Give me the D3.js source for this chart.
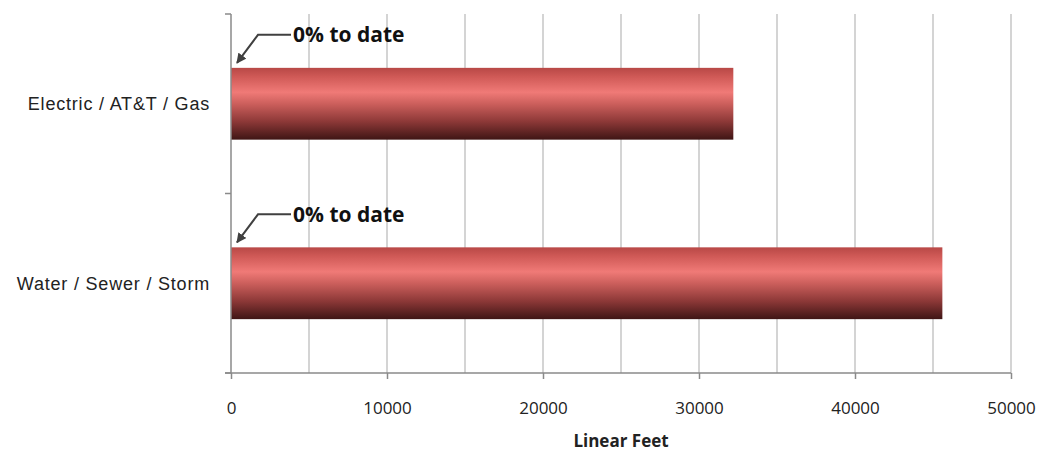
<!DOCTYPE html>
<html>
<head>
<meta charset="utf-8">
<script src="https://cdn.jsdelivr.net/npm/d3@7"></script>
<style>
  body { margin: 0; background: #fff; }
</style>
</head>
<body>
<div id="chart"></div>
<script>
// data
var categories = ["Electric / AT&T / Gas", "Water / Sewer / Storm"];
var footage = [32200, 45600];
var notes = ["0% to date", "0% to date"];
var xTicks = [0, 10000, 20000, 30000, 40000, 50000];
var gridTicks = [0, 5000, 10000, 15000, 20000, 25000, 30000, 35000, 40000, 45000, 50000];

var W = 1042, H = 451;
var margin = { top: 14, right: 31, bottom: 78, left: 231 };
var width = W - margin.left - margin.right,
    height = H - margin.top - margin.bottom;

var svg = d3.select("#chart").append("svg")
    .attr("width", W).attr("height", H);

// bar gradient (cylinder look)
var grad = svg.append("defs").append("linearGradient")
    .attr("id", "barGrad").attr("x1", 0).attr("y1", 0).attr("x2", 0).attr("y2", 1);
[[0, "#b84846"], [0.12, "#cf5956"], [0.34, "#f07a77"], [0.5, "#cc5f5c"], [0.75, "#8c3837"], [1, "#3f1515"]]
    .forEach(function(s) { grad.append("stop").attr("offset", s[0]).attr("stop-color", s[1]); });

var g = svg.append("g").attr("transform", "translate(" + margin.left + "," + margin.top + ")");

var x = d3.scaleLinear().domain([0, 50000]).range([0, width]);
var y = d3.scaleBand().domain(categories).range([0, height]).paddingInner(0.6).paddingOuter(0.3);

// vertical gridlines
g.append("g").selectAll("line")
    .data(gridTicks.slice(1))
    .enter().append("line")
    .attr("x1", d => x(d)).attr("x2", d => x(d))
    .attr("y1", 0).attr("y2", height)
    .attr("stroke", "#d4d4d4").attr("stroke-width", 2);

// bars
g.selectAll("rect.bar")
    .data(categories)
    .enter().append("rect")
    .attr("class", "bar")
    .attr("x", x(0))
    .attr("y", d => y(d))
    .attr("width", (d, i) => x(footage[i]) - x(0))
    .attr("height", y.bandwidth())
    .attr("fill", "url(#barGrad)");

// x axis
var xAxis = g.append("g")
    .attr("transform", "translate(0," + height + ")")
    .call(d3.axisBottom(x).tickValues(xTicks).tickSize(6).tickPadding(23).tickFormat(d3.format("d")));
xAxis.select(".domain").attr("stroke", "#8a8a8a").attr("stroke-width", 1.5)
    .attr("d", "M-6,0H" + width);
xAxis.selectAll(".tick line").attr("stroke", "#8a8a8a").attr("stroke-width", 1.5);
xAxis.selectAll(".tick text")
    .attr("fill", "#222")
    .style("font-family", "'Open Sans', 'Liberation Sans', sans-serif")
    .style("font-size", "17px");

// y axis
var yTickPos = [0, height / 2, height];
var yAxis = g.append("g");
yAxis.append("line").attr("x1", 0).attr("x2", 0).attr("y1", 0).attr("y2", height)
    .attr("stroke", "#8a8a8a").attr("stroke-width", 1.5);
yAxis.selectAll("line.tk").data(yTickPos).enter().append("line").attr("class", "tk")
    .attr("x1", -6).attr("x2", 0).attr("y1", d => d).attr("y2", d => d)
    .attr("stroke", "#8a8a8a").attr("stroke-width", 1.5);
yAxis.selectAll("text").data(categories).enter().append("text")
    .attr("x", -21)
    .attr("y", d => y(d) + y.bandwidth() / 2)
    .attr("dy", "0.35em")
    .attr("text-anchor", "end")
    .attr("fill", "#222")
    .style("font-family", "'Liberation Sans', Arial, sans-serif")
    .style("font-size", "18px")
    .style("letter-spacing", "0.8px")
    .text(d => d);

// axis title
g.append("text")
    .attr("x", width / 2).attr("y", height + 74)
    .attr("text-anchor", "middle")
    .attr("fill", "#222")
    .style("font-family", "'Open Sans', 'Liberation Sans', sans-serif")
    .style("font-size", "17px").style("font-weight", "bold")
    .text("Linear Feet");

// annotation arrows
svg.append("defs").append("marker")
    .attr("id", "arrowHead").attr("viewBox", "0 0 10 10")
    .attr("refX", 9).attr("refY", 5)
    .attr("markerWidth", 5).attr("markerHeight", 5)
    .attr("orient", "auto")
    .append("path").attr("d", "M0,0L10,5L0,10z").attr("fill", "#404040");

var notesG = g.append("g");
categories.forEach(function(c, i) {
    var top = y(c);
    var ny = top - 33;
    notesG.append("path")
        .attr("d", "M" + (x(0) + 60) + "," + ny + "H" + (x(0) + 27) + "L" + (x(0) + 6) + "," + (top - 5))
        .attr("fill", "none").attr("stroke", "#404040").attr("stroke-width", 2)
        .attr("marker-end", "url(#arrowHead)");
    notesG.append("text")
        .attr("x", x(0) + 62).attr("y", ny)
        .attr("dy", "0.35em")
        .attr("fill", "#111")
        .style("font-family", "'Open Sans', 'Liberation Sans', sans-serif")
        .style("font-size", "21px").style("font-weight", "bold")
        .text(notes[i]);
});
</script>
</body>
</html>
